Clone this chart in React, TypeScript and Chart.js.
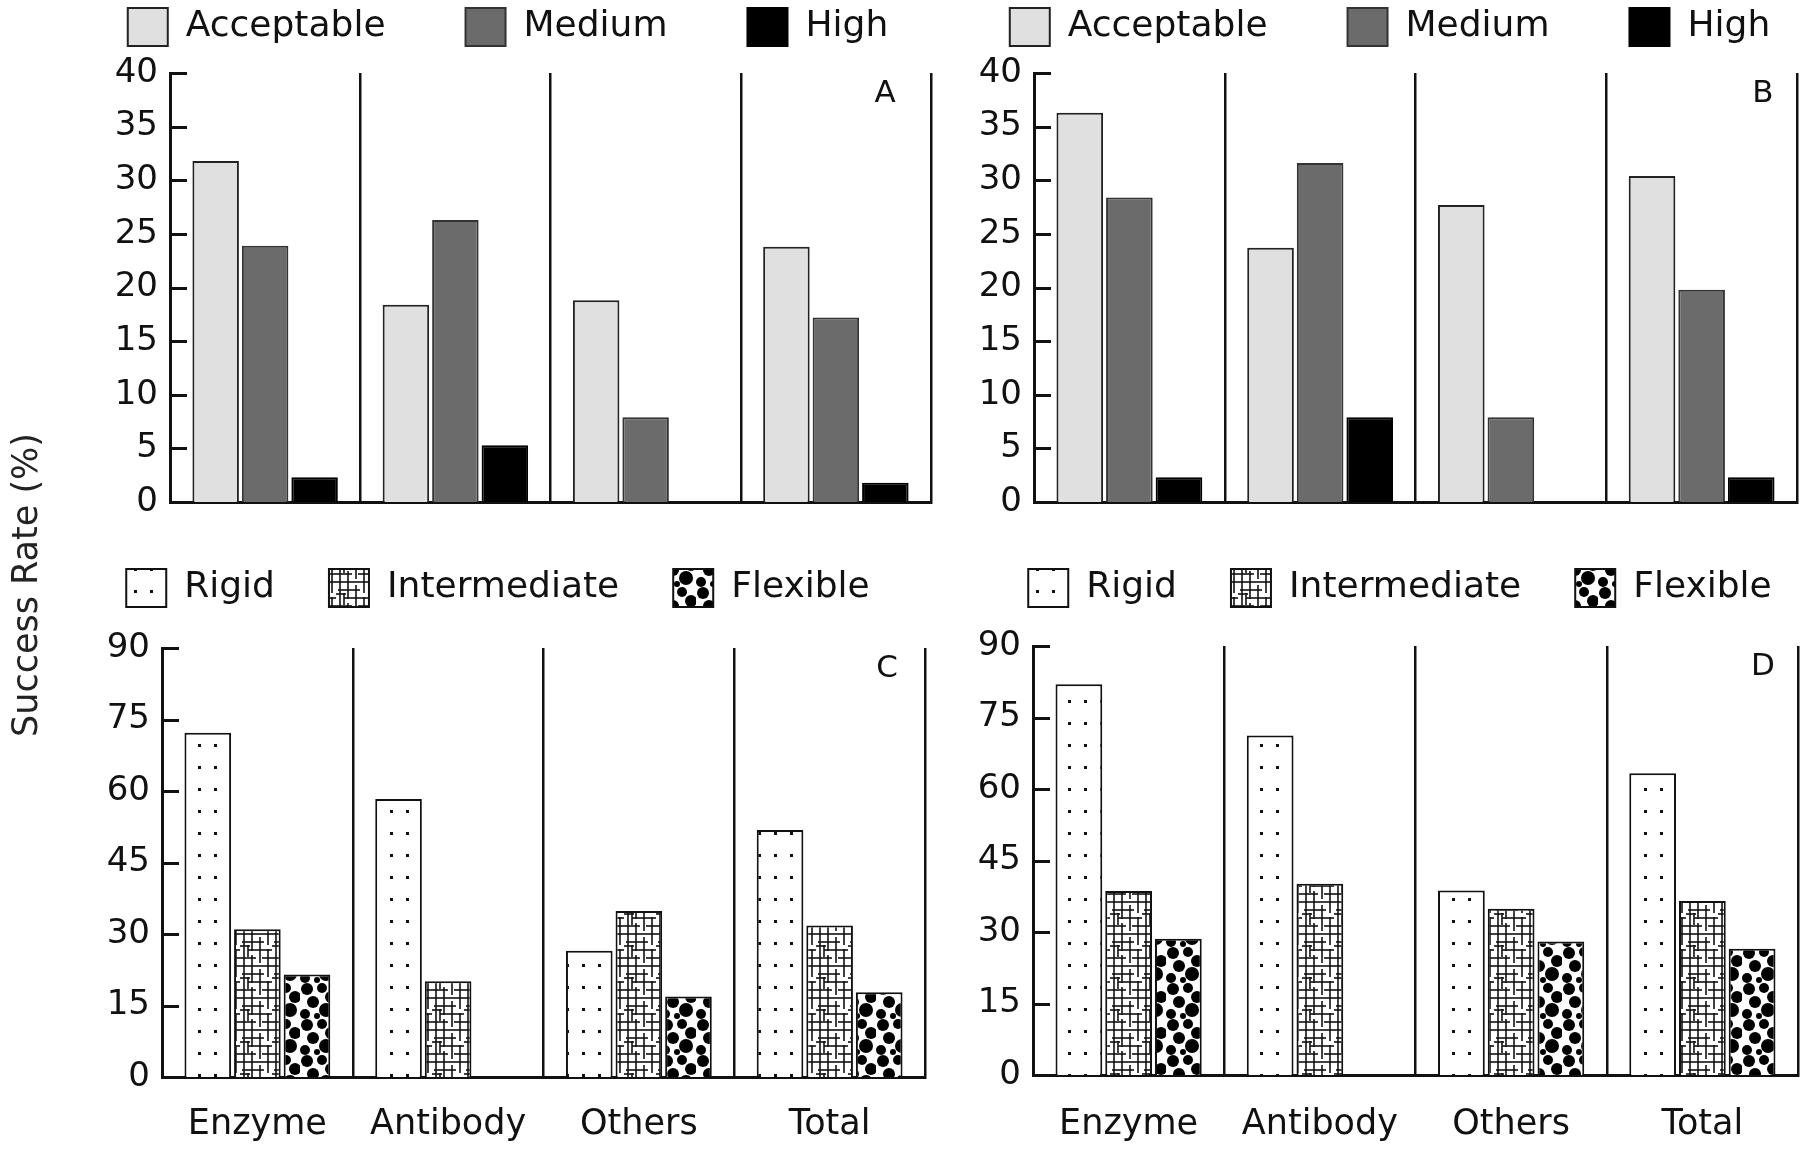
import React, { useEffect, useRef } from 'react';
import { Chart, registerables } from 'chart.js';

Chart.register(...registerables);

const FONT = '"DejaVu Sans", "Liberation Sans", sans-serif';

// ---- data ----
const categories = ['Enzyme', 'Antibody', 'Others', 'Total'];
const severityNames = ['Acceptable', 'Medium', 'High'];
const flexibilityNames = ['Rigid', 'Intermediate', 'Flexible'];
const yAxisTitle = 'Success Rate (%)';

const topAxisMax = 40;
const topAxisStep = 5;
const bottomAxisMax = 90;
const bottomAxisStep = 15;

const aAcceptable = [31.8, 18.4, 18.8, 23.8];
const aMedium = [23.9, 26.3, 7.9, 17.2];
const aHigh = [2.3, 5.3, 0, 1.8];

const bAcceptable = [36.3, 23.7, 27.7, 30.4];
const bMedium = [28.4, 31.6, 7.9, 19.8];
const bHigh = [2.3, 7.9, 0, 2.3];

const cRigid = [72.2, 58.3, 26.5, 51.8];
const cIntermediate = [31.0, 20.1, 34.8, 31.8];
const cFlexible = [21.5, 0, 16.9, 17.8];

const dRigid = [82.0, 71.2, 38.7, 63.3];
const dIntermediate = [38.6, 40.1, 34.9, 36.5];
const dFlexible = [28.6, 0, 28.0, 26.5];

// ---- patterns ----
function tile(w: number, h: number, draw: (c: CanvasRenderingContext2D) => void) {
  const cv = document.createElement('canvas');
  cv.width = w;
  cv.height = h;
  const c = cv.getContext('2d')!;
  c.fillStyle = '#ffffff';
  c.fillRect(0, 0, w, h);
  draw(c);
  return cv;
}

function makePatterns(ctx: CanvasRenderingContext2D) {
  const rigid = tile(16, 22, (c) => {
    c.fillStyle = '#111';
    c.fillRect(6, 9, 3, 3);
  });
  const inter = tile(32, 32, (c) => {
    c.strokeStyle = '#111';
    c.lineWidth = 1.6;
    const v = [[4, 0, 32], [12, 0, 20], [12, 24, 32], [20, 6, 32], [28, 0, 14], [28, 18, 32], [8, 14, 26]];
    const h = [[3, 0, 32], [11, 2, 24], [19, 8, 32], [27, 0, 16], [27, 22, 32], [15, 0, 10]];
    v.forEach(([x, a, b]) => { c.beginPath(); c.moveTo(x, a); c.lineTo(x, b); c.stroke(); });
    h.forEach(([y, a, b]) => { c.beginPath(); c.moveTo(a, y); c.lineTo(b, y); c.stroke(); });
  });
  const flex = tile(36, 36, (c) => {
    c.fillStyle = '#000';
    const circles = [[7, 6, 6], [22, 5, 5], [31, 14, 6], [13, 19, 6], [26, 27, 7], [5, 31, 5], [17, 33, 3]];
    circles.forEach(([x, y, r]) => { c.beginPath(); c.arc(x, y, r, 0, Math.PI * 2); c.fill(); });
  });
  return [
    ctx.createPattern(rigid, 'repeat')!,
    ctx.createPattern(inter, 'repeat')!,
    ctx.createPattern(flex, 'repeat')!,
  ];
}

// ---- decoration plugin: inward y ticks + panel letter ----
const panelDecor = {
  id: 'panelDecor',
  afterDraw(chart: any, _args: any, opts: any) {
    const { ctx, chartArea, scales } = chart;
    const y = scales.y;
    ctx.save();
    ctx.strokeStyle = '#111';
    ctx.lineWidth = 3;
    y.ticks.forEach((t: any) => {
      if (t.value === 0) return;
      const py = Math.round(y.getPixelForValue(t.value)) + 0.5;
      ctx.beginPath();
      ctx.moveTo(chartArea.left, py);
      ctx.lineTo(chartArea.left + 17, py);
      ctx.stroke();
    });
    ctx.font = `31px ${FONT}`;
    ctx.textAlign = 'center';
    ctx.textBaseline = 'middle';
    ctx.fillStyle = '#111';
    ctx.fillText(opts.letter, chartArea.right + opts.dx, chartArea.top + 21);
    ctx.restore();
  },
};

type PanelProps = {
  left: number; top: number; width: number; height: number;
  letter: string; letterDx: number;
  series: number[][]; names: string[]; kind: 'severity' | 'flex';
  yMax: number; yStep: number; showX: boolean; xPad: number;
  legendPad: number;
  yw: number; rw: number; xh: number; extraTop: number;
};

function Panel(p: PanelProps) {
  const ref = useRef<HTMLCanvasElement>(null);
  useEffect(() => {
    const canvas = ref.current!;
    const ctx = canvas.getContext('2d')!;
    const fills: any[] = p.kind === 'severity' ? ['#e0e0e0', '#6b6b6b', '#000000'] : makePatterns(ctx);
    const borders = p.kind === 'severity' ? ['#222', '#333', '#000'] : ['#111', '#111', '#111'];
    const chart = new Chart(canvas, {
      type: 'bar',
      data: {
        labels: categories,
        datasets: p.series.map((s, i) => ({
          label: p.names[i],
          data: s,
          backgroundColor: fills[i],
          borderColor: borders[i],
          borderWidth: 2,
          categoryPercentage: 0.78,
          barPercentage: 0.94,
        })),
      },
      options: {
        responsive: false,
        animation: false,
        devicePixelRatio: 1,
        layout: { padding: 0 },
        plugins: {
          legend: {
            position: 'top',
            align: 'center',
            labels: {
              boxWidth: 40,
              boxHeight: 38,
              padding: p.legendPad,
              color: '#111',
              font: { family: FONT, size: 36 },
            },
          },
          tooltip: { enabled: false },
          panelDecor: { letter: p.letter, dx: p.letterDx },
        } as any,
        scales: {
          x: {
            type: 'category',
            offset: true,
            grid: { display: true, offset: true, color: '#111', lineWidth: 2.5, drawTicks: false },
            border: { display: true, color: '#111', width: 3 },
            ticks: { display: p.showX, color: '#111', padding: p.xPad, font: { family: FONT, size: 35 }, maxRotation: 0, autoSkip: false },
            afterFit: (s: any) => { s.height = p.xh; },
          },
          xt: {
            type: 'category',
            position: 'top',
            display: true,
            grid: { display: false, drawTicks: false },
            border: { display: false },
            ticks: { display: false },
            afterFit: (s: any) => { s.height = p.extraTop; },
          },
          y: {
            min: 0,
            max: p.yMax,
            ticks: { stepSize: p.yStep, autoSkip: false, color: '#111', padding: 12, font: { family: FONT, size: 34, lineHeight: 1 } },
            grid: { display: false, drawTicks: false },
            border: { display: true, color: '#111', width: 3 },
            afterFit: (s: any) => { s.width = p.yw; },
          },
          yr: {
            type: 'linear',
            position: 'right',
            display: true,
            grid: { display: false, drawTicks: false },
            border: { display: false },
            ticks: { display: false },
            afterFit: (s: any) => { s.width = p.rw; },
          },
        } as any,
      },
      plugins: [panelDecor],
    });
    return () => chart.destroy();
  }, []);
  return (
    <canvas
      ref={ref}
      width={p.width}
      height={p.height}
      style={{ position: 'absolute', left: p.left, top: p.top, width: p.width, height: p.height }}
    />
  );
}

export default function App() {
  return (
    <div style={{ position: 'absolute', left: 0, top: 0, width: 1800, height: 1153, overflow: 'hidden', background: '#fff' }}>
      <Panel left={38} top={-72} width={940} height={603} letter="A" letterDx={-46}
        series={[aAcceptable, aMedium, aHigh]} names={severityNames} kind="severity"
        yMax={topAxisMax} yStep={topAxisStep} showX={false} xPad={25}
        legendPad={80} yw={132} rw={47} xh={29} extraTop={17} />
      <Panel left={920} top={-72} width={940} height={603} letter="B" letterDx={-34}
        series={[bAcceptable, bMedium, bHigh]} names={severityNames} kind="severity"
        yMax={topAxisMax} yStep={topAxisStep} showX={false} xPad={25}
        legendPad={80} yw={114} rw={63} xh={29} extraTop={17} />
      <Panel left={48} top={515} width={900} height={638} letter="C" letterDx={-38}
        series={[cRigid, cIntermediate, cFlexible]} names={flexibilityNames} kind="flex"
        yMax={bottomAxisMax} yStep={bottomAxisStep} showX={true} xPad={27}
        legendPad={54} yw={114} rw={23} xh={76} extraTop={31} />
      <Panel left={950} top={515} width={900} height={638} letter="D" letterDx={-35}
        series={[dRigid, dIntermediate, dFlexible]} names={flexibilityNames} kind="flex"
        yMax={bottomAxisMax} yStep={bottomAxisStep} showX={true} xPad={29}
        legendPad={54} yw={83} rw={52} xh={78} extraTop={29} />
      <div style={{
        position: 'absolute', left: 25, top: 585, transform: 'translate(-50%, -50%) rotate(-90deg)',
        whiteSpace: 'nowrap', font: `35px ${FONT}`, color: '#222',
      }}>{yAxisTitle}</div>
    </div>
  );
}
